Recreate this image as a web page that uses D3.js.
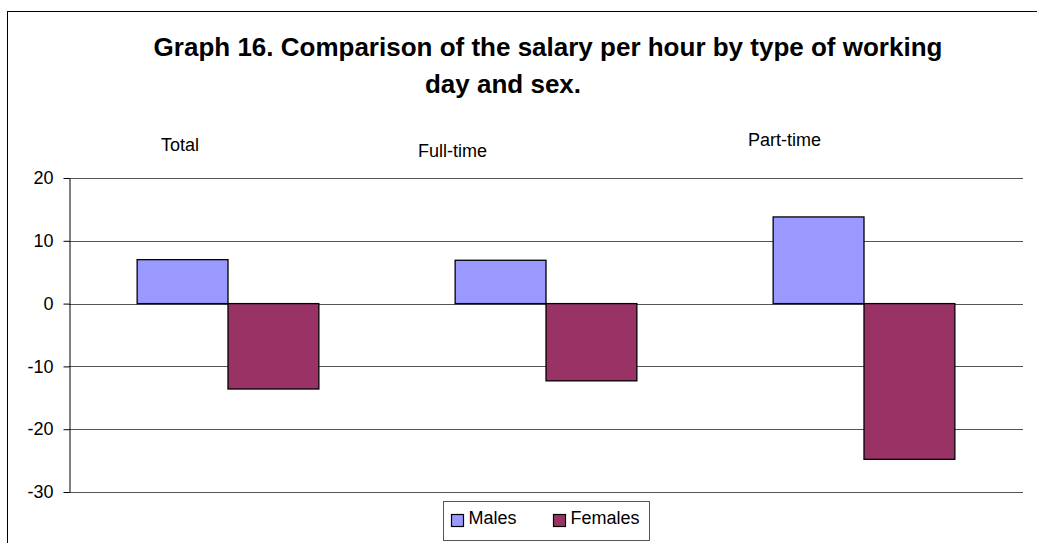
<!DOCTYPE html>
<html>
<head>
<meta charset="utf-8">
<script src="https://cdn.jsdelivr.net/npm/d3@7/dist/d3.min.js"></script>
<style>
  html, body { margin: 0; padding: 0; background: #fff; }
  svg { display: block; font-family: Arial, "Liberation Sans", sans-serif; }
</style>
</head>
<body>
<div id="chart"></div>
<script>
// data
const categories = ["Total", "Full-time", "Part-time"];
const seriesNames = ["Males", "Females"];
const males = [7.0, 6.9, 13.8];
const females = [-13.6, -12.3, -24.8];
const yTicks = [-30, -20, -10, 0, 10, 20];
const titleLines = ["Graph 16. Comparison of the salary per hour by type of working", "day and sex."];

const colors = {Males: "#9999ff", Females: "#993366"};

const width = 1037, height = 543;
const plot = {left: 69, right: 1023, top: 178, bottom: 492};

const svg = d3.select("#chart").append("svg")
    .attr("width", width)
    .attr("height", height);

// outer chart border (runs off the right and bottom edges)
svg.append("rect")
    .attr("x", 7.5).attr("y", 11.5)
    .attr("width", 1040).attr("height", 540)
    .attr("fill", "none")
    .attr("stroke", "#000")
    .attr("stroke-width", 1);

// title, two lines
svg.append("text")
    .attr("x", 548).attr("y", 56)
    .attr("text-anchor", "middle")
    .style("font-size", "26px").style("font-weight", "bold")
    .text(titleLines[0]);
svg.append("text")
    .attr("x", 503).attr("y", 93)
    .attr("text-anchor", "middle")
    .style("font-size", "26px").style("font-weight", "bold")
    .text(titleLines[1]);

// scales
const x = d3.scaleBand().domain(categories).range([plot.left, plot.right]).padding(0);
const xSub = d3.scaleBand().domain(seriesNames).range([0, x.bandwidth()])
    .paddingInner(0).paddingOuter(0.75);
const y = d3.scaleLinear().domain([-30, 20]).range([plot.bottom, plot.top]);

// gridlines
svg.append("g").selectAll("line")
    .data(yTicks)
    .join("line")
    .attr("x1", plot.left).attr("x2", plot.right)
    .attr("y1", d => Math.round(y(d)) + 0.5)
    .attr("y2", d => Math.round(y(d)) + 0.5)
    .attr("stroke", "#555")
    .attr("stroke-width", 1);

// bars
const rows = categories.map((c, i) => ({cat: c, Males: males[i], Females: females[i]}));
const groups = svg.append("g").selectAll("g")
    .data(rows)
    .join("g")
    .attr("transform", d => `translate(${x(d.cat)},0)`);

groups.selectAll("rect")
    .data(d => seriesNames.map(s => ({key: s, value: d[s]})))
    .join("rect")
    .attr("x", d => xSub(d.key))
    .attr("y", d => y(Math.max(0, d.value)))
    .attr("width", xSub.bandwidth())
    .attr("height", d => Math.abs(y(d.value) - y(0)))
    .attr("fill", d => colors[d.key])
    .attr("stroke", "#000")
    .attr("stroke-width", 1.3);

// y axis (plain hyphen for negatives, like the original)
const yAxis = d3.axisLeft(y).tickValues(yTicks).tickFormat(d => String(d))
    .tickSize(6).tickPadding(10).tickSizeOuter(0);
const yg = svg.append("g")
    .attr("transform", `translate(${plot.left + 0.5},0)`)
    .call(yAxis);
yg.select(".domain").attr("stroke", "#000");
yg.selectAll(".tick line").attr("stroke", "#000");
yg.selectAll(".tick text")
    .style("font-size", "18px")
    .style("font-family", "Arial, 'Liberation Sans', sans-serif")
    .attr("fill", "#000");

// category labels floating above the plot
const catLabelPos = [
    {x: 161, y: 151},
    {x: 418, y: 157},
    {x: 748, y: 146}
];
svg.append("g").selectAll("text")
    .data(categories)
    .join("text")
    .attr("x", (d, i) => catLabelPos[i].x)
    .attr("y", (d, i) => catLabelPos[i].y)
    .style("font-size", "18px")
    .text(d => d);

// legend
const legend = svg.append("g").attr("transform", "translate(443.5,501.5)");
legend.append("rect")
    .attr("width", 206).attr("height", 39)
    .attr("fill", "#fff")
    .attr("stroke", "#555");
const legendX = [8, 110];
const items = legend.selectAll("g.item")
    .data(seriesNames)
    .join("g")
    .attr("class", "item")
    .attr("transform", (d, i) => `translate(${legendX[i]},0)`);
items.append("rect")
    .attr("x", 0).attr("y", 13)
    .attr("width", 12).attr("height", 12)
    .attr("fill", d => colors[d])
    .attr("stroke", "#000")
    .attr("stroke-width", 1.2);
items.append("text")
    .attr("x", 17).attr("y", 22)
    .style("font-size", "18px")
    .text(d => d);
</script>
</body>
</html>
